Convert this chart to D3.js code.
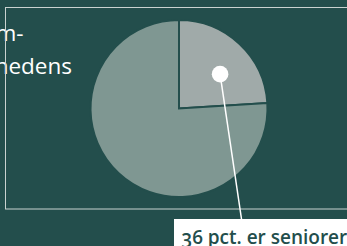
<!DOCTYPE html>
<html><head><meta charset="utf-8">
<script src="https://cdn.jsdelivr.net/npm/d3@7"></script>
<style>
html,body{margin:0;padding:0;background:#234e4c;overflow:hidden}
svg{display:block}
</style></head>
<body>
<script>
const categories = ["Seniorer", "Øvrige"];
const shares = [24, 76];
const introLines = ["m-", "nedens"];
const calloutText = "36 pct. er seniorer";

const W = 347, H = 246;
const bg = "#234e4c";
const svg = d3.select("body").append("svg").attr("width", W).attr("height", H);

svg.append("rect").attr("width", W).attr("height", H).attr("fill", bg);

// intro text (cut off at left, as in the reference)
const intro = svg.append("g");
intro.selectAll("text").data(introLines).join("text")
  .attr("x", (d,i)=> i===0 ? 23.5 : 72)
  .attr("y", (d,i)=> 41 + i*33.3)
  .attr("text-anchor","end")
  .attr("fill","#ffffff")
  .attr("font-family","'Open Sans', sans-serif")
  .attr("font-size", 22.5)
  .text(d=>d);

// frame
svg.append("rect").attr("x",5.5).attr("y",7.5).attr("width",400).attr("height",201.5)
  .attr("fill","none").attr("stroke","#c9d2d0").attr("stroke-width",1);

// pie
const cx = 179, cy = 108.5, r = 88.5;
const pie = d3.pie().sort(null).value(d=>d)(shares);
const arc = d3.arc().innerRadius(0).outerRadius(r);
const colors = d3.scaleOrdinal().domain(categories).range(["#a0aaa9", "#7f9792"]);
const g = svg.append("g").attr("transform",`translate(${cx},${cy})`);
g.selectAll("path").data(pie).join("path")
  .attr("d", arc)
  .attr("fill",(d,i)=>colors(categories[i]))
  .attr("stroke", bg).attr("stroke-width", 2).attr("stroke-linejoin","miter");

// dot
const s = pie[0];
const a = s.startAngle + 0.58*(s.endAngle - s.startAngle);
const rr = 0.605*r;
const dx = cx + rr*Math.sin(a), dy = cy - rr*Math.cos(a);

// callout box
const boxX = 174, boxY = 219;
svg.append("line").attr("x1",dx).attr("y1",dy).attr("x2",241.5).attr("y2",boxY)
  .attr("stroke","#ffffff").attr("stroke-width",1.5);
svg.append("circle").attr("cx",dx).attr("cy",dy).attr("r",8.3).attr("fill","#ffffff");
svg.append("rect").attr("x",boxX).attr("y",boxY).attr("width",W-boxX+10).attr("height",H-boxY+10)
  .attr("fill","#ffffff");
svg.append("text").attr("x",181.5).attr("y",243.7)
  .attr("fill","#234e4c")
  .attr("font-family","'Open Sans', sans-serif")
  .attr("font-weight",600)
  .attr("font-size",19)
  .style("font-variant-numeric","oldstyle-nums")
  .text(calloutText);
</script>
</body></html>
